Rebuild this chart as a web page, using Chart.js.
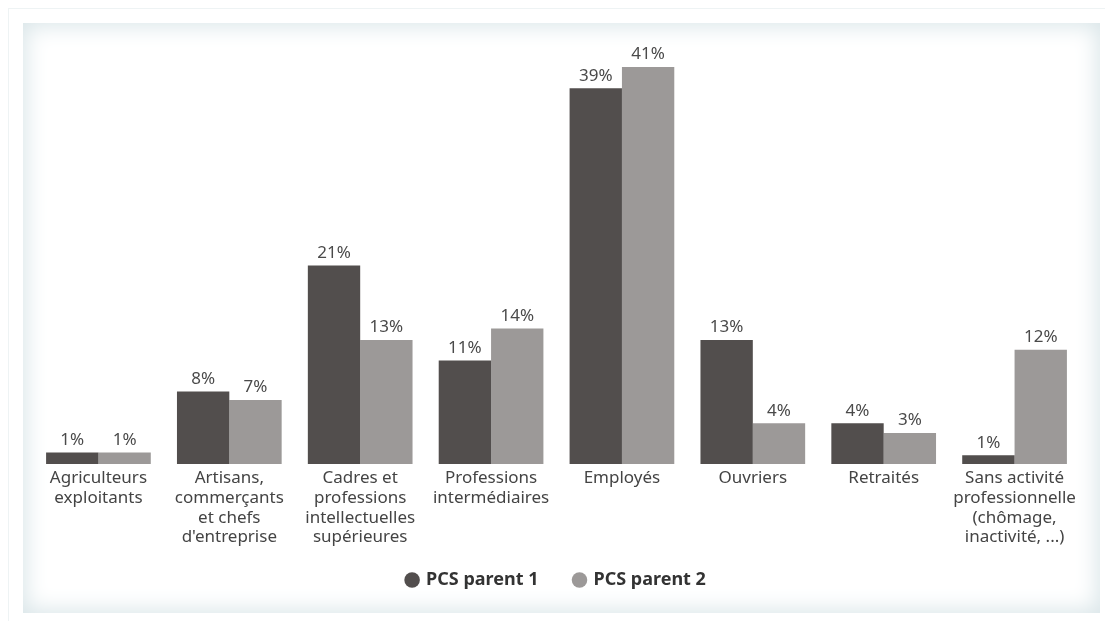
<!DOCTYPE html>
<html lang="fr">
<head>
<meta charset="UTF-8">
<title>PCS parents</title>
<script src="https://cdn.jsdelivr.net/npm/chart.js@4"></script>
<style>
  html, body { margin: 0; padding: 0; background: #fff; }
  #frame { position: absolute; left: 8px; top: 8px; width: 1120px; height: 640px; border: 1px solid #eef3f4; }
  #panel { position: absolute; left: 23px; top: 23px; width: 1077px; height: 590px; background: #fff;
           box-shadow: inset 0 0 22px 3px #d9e5e8; }
  #wrap { position: absolute; left: 0; top: 0; width: 1105px; height: 621px; }
</style>
</head>
<body>
<div id="frame"></div>
<div id="panel"></div>
<div id="wrap"><canvas id="chart" width="1105" height="621"></canvas></div>
<script>
// categories (multi-line labels)
const categories = [
  ['Agriculteurs', 'exploitants'],
  ['Artisans,', 'commerçants', 'et chefs', "d'entreprise"],
  ['Cadres et', 'professions', 'intellectuelles', 'supérieures'],
  ['Professions', 'intermédiaires'],
  ['Employés'],
  ['Ouvriers'],
  ['Retraités'],
  ['Sans activité', 'professionnelle', '(chômage,', 'inactivité, ...)']
];
const seriesNames = ['PCS parent 1', 'PCS parent 2'];
// percentages
const parent1 = [1.2, 7.5, 20.5, 10.7, 38.8, 12.8, 4.2, 0.9];
const parent2 = [1.2, 6.6, 12.8, 14.0, 41.0, 4.2, 3.2, 11.8];
const colors = ['#524e4d', '#9c9998'];

// labels above bars
const valueLabels = {
  id: 'valueLabels',
  afterDatasetsDraw(chart) {
    const ctx = chart.ctx;
    ctx.save();
    ctx.font = '17px "Noto Sans"';
    ctx.fillStyle = '#4a4a4a';
    ctx.textAlign = 'center';
    ctx.textBaseline = 'bottom';
    chart.data.datasets.forEach((ds, i) => {
      chart.getDatasetMeta(i).data.forEach((bar, j) => {
        ctx.fillText(Math.round(ds.data[j]) + '%', bar.x, bar.y - 4);
      });
    });
    ctx.restore();
  }
};

// the x axis box is kept short so the legend sits close; let its labels run below it
const unclipLabels = {
  id: 'unclipLabels',
  afterLayout(chart) {
    chart.scales.x.bottom = chart.height;
  }
};

new Chart(document.getElementById('chart'), {
  type: 'bar',
  data: {
    labels: categories,
    datasets: [
      { label: seriesNames[0], data: parent1, backgroundColor: colors[0] },
      { label: seriesNames[1], data: parent2, backgroundColor: colors[1] }
    ]
  },
  options: {
    responsive: false,
    animation: false,
    layout: { padding: { top: 67, left: 33, right: 25, bottom: 29 } },
    datasets: { bar: { categoryPercentage: 0.8, barPercentage: 1.0 } },
    scales: {
      x: {
        grid: { display: false },
        border: { display: false },
        ticks: {
          color: '#444',
          font: { family: 'Noto Sans', size: 17, lineHeight: 1.17 },
          padding: -4,
          maxRotation: 0,
          autoSkip: false
        },
        afterFit(scale) { scale.height = 71; }
      },
      y: { display: false, min: 0, max: 41 }
    },
    plugins: {
      tooltip: { enabled: false },
      legend: {
        position: 'bottom',
        maxHeight: 57,
        labels: {
          usePointStyle: true,
          pointStyle: 'circle',
          boxWidth: 10,
          boxHeight: 11,
          padding: 36,
          color: '#333',
          font: { family: 'Noto Sans', size: 18, weight: 'bold' }
        }
      }
    }
  },
  plugins: [valueLabels, unclipLabels]
});
</script>
</body>
</html>
